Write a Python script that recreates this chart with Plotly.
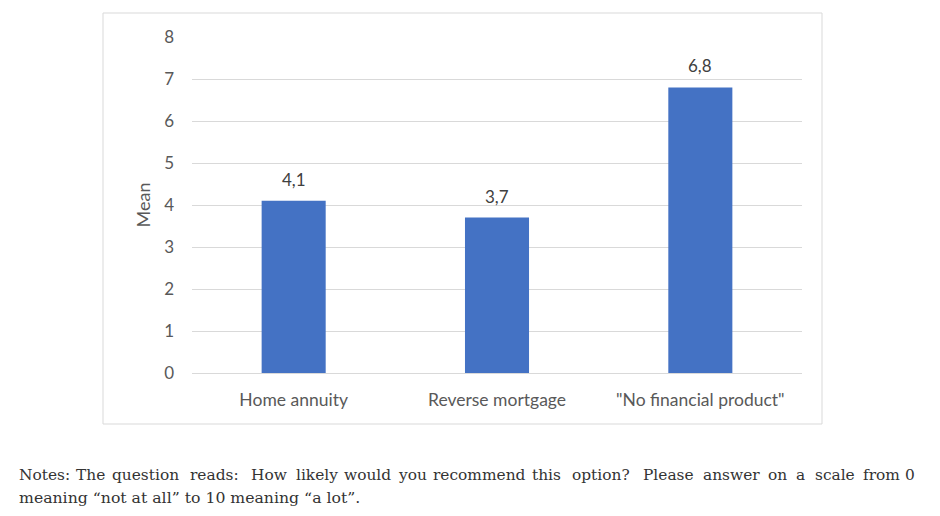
import plotly.graph_objects as go

categories = ["Home annuity", "Reverse mortgage", "\"No financial product\""]
means = [4.1, 3.7, 6.8]
y_ticks = [0, 1, 2, 3, 4, 5, 6, 7, 8]

note_line1 = "Notes: The question reads: How likely would you recommend this option? Please answer on a scale from 0"
note_line2 = "meaning “not at all” to 10 meaning “a lot”."

OFF = 8  # default page body margin
W, H = 940 - 2 * OFF, 516 - 2 * OFF
GX0, GX1, GY0, GY1 = 192, 802, 373, 37
L, T = GX0 - OFF, GY1 - OFF
R = W - (GX1 - OFF)
B = H - (GY0 - OFF)
pw, ph = W - L - R, H - T - B

def px(x):
    return (x - OFF - L) / pw

def py(y):
    return (H - B - (y - OFF)) / ph

fig = go.Figure()
fig.add_trace(go.Bar(
    x=categories, y=means,
    marker=dict(color="#4472C4", line=dict(width=0)),
    hoverinfo="x+y",
))

for c, v in zip(categories, means):
    fig.add_annotation(x=c, y=v, text=f"{v:.1f}".replace(".", ","), showarrow=False,
                       yanchor="bottom", yshift=9,
                       font=dict(family="Lato", size=17, color="#404040"))

fig.update_layout(
    width=W, height=H,
    margin=dict(l=L, r=R, t=T, b=B),
    paper_bgcolor="white", plot_bgcolor="white",
    separators=",.",
    bargap=0.685,
    showlegend=False,
    font=dict(family="Lato", size=16, color="#595959"),
)
fig.update_yaxes(
    range=[0, 8], tickvals=y_ticks, showgrid=True, gridcolor="#d9d9d9", gridwidth=1,
    zeroline=False, showline=False, ticks="", ticklabelstandoff=17,
    tickfont=dict(size=17),
    title=dict(text="Mean", font=dict(family="Lato", size=18, color="#595959"), standoff=8),
)
fig.update_xaxes(
    showgrid=False, zeroline=False, showline=True, linecolor="#d9d9d9", linewidth=1,
    ticks="", ticklabelstandoff=11, tickfont=dict(size=17.5),
)

fig.add_shape(type="rect", xref="paper", yref="paper",
              x0=px(103), x1=px(822), y0=py(424), y1=py(13),
              line=dict(color="#d9d9d9", width=1), fillcolor="rgba(0,0,0,0)", layer="below")

note_font = dict(family="DejaVu Serif", size=15.4, color="#333333")
# justified first line: each word centred where it sits in the window
words = note_line1.split(" ")
word_cx = [17, 90.5, 145, 214, 269, 317, 367, 412, 479, 546, 601, 668,
           731.5, 777.5, 800, 835, 881, 917]
for i, (w, x) in enumerate(zip(words, word_cx)):
    anchor = "left" if i == 0 else ("right" if i == len(words) - 1 else "center")
    fig.add_annotation(xref="paper", yref="paper", x=px(x), y=py(475), xanchor=anchor, yanchor="middle",
                       showarrow=False, font=note_font, text=w)
fig.add_annotation(xref="paper", yref="paper", x=px(17), y=py(497), xanchor="left", yanchor="middle",
                   showarrow=False, font=dict(family="DejaVu Serif", size=15.7, color="#333333"),
                   text=note_line2)

fig.write_html("out.html")
